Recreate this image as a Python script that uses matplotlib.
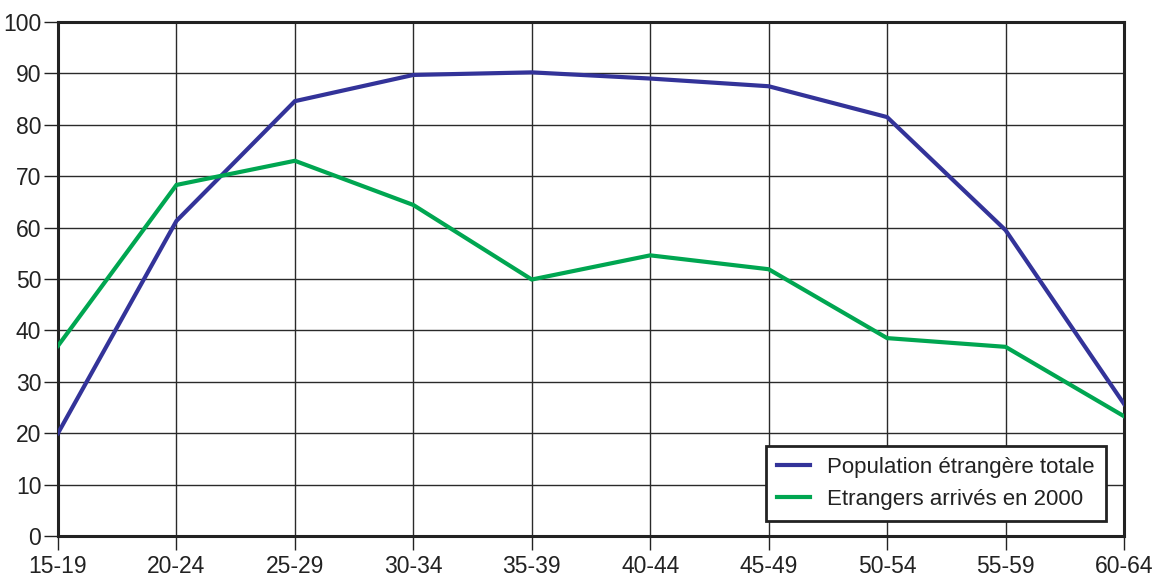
import matplotlib
matplotlib.use("Agg")
import matplotlib.pyplot as plt

categories = ["15-19", "20-24", "25-29", "30-34", "35-39", "40-44", "45-49", "50-54", "55-59", "60-64"]
total = [20.0, 61.3, 84.6, 89.7, 90.2, 89.0, 87.5, 81.5, 59.5, 25.7]
arrived_2000 = [37.0, 68.3, 73.0, 64.4, 49.9, 54.6, 51.9, 38.5, 36.8, 23.3]
series_labels = ["Population étrangère totale", "Etrangers arrivés en 2000"]
yticks = list(range(0, 101, 10))

plt.rcParams['font.family'] = ['Liberation Sans', 'DejaVu Sans']

fig = plt.figure(figsize=(11.55, 5.79), dpi=100)
ax = fig.add_axes([58/1155, 1 - 536/579, (1124-58)/1155, (536-22)/579])

x = list(range(len(categories)))
ax.plot(x, total, color="#333399", lw=3, label=series_labels[0], solid_joinstyle="miter", zorder=3)
ax.plot(x, arrived_2000, color="#00a651", lw=3, label=series_labels[1], solid_joinstyle="miter", zorder=3)

ax.set_xlim(0, len(categories) - 1)
ax.set_ylim(0, 100)
ax.set_xticks(x)
ax.set_xticklabels(categories)
ax.set_yticks(yticks)
ax.grid(True, color="#2a2a2a", lw=1)
ax.set_axisbelow(True)
for s in ax.spines.values():
    s.set_linewidth(2.2)
    s.set_color("#222222")
ax.tick_params(axis="both", direction="out", length=10, width=1, color="#222222",
               labelsize=16.5, labelcolor="#222222", pad=2)
ax.tick_params(axis="x", pad=4)

leg = ax.legend(loc="lower right", bbox_to_anchor=((1106-58)/1066, (536-521)/514),
                fontsize=16, frameon=True, fancybox=False, handlelength=1.45,
                borderpad=0.5, labelspacing=0.5, handletextpad=0.8, borderaxespad=0)
leg.get_frame().set_edgecolor("#222222")
leg.get_frame().set_linewidth(2)
leg.get_frame().set_alpha(1)
for t in leg.get_texts():
    t.set_color("#222222")

fig.savefig("out.png", dpi=100)
